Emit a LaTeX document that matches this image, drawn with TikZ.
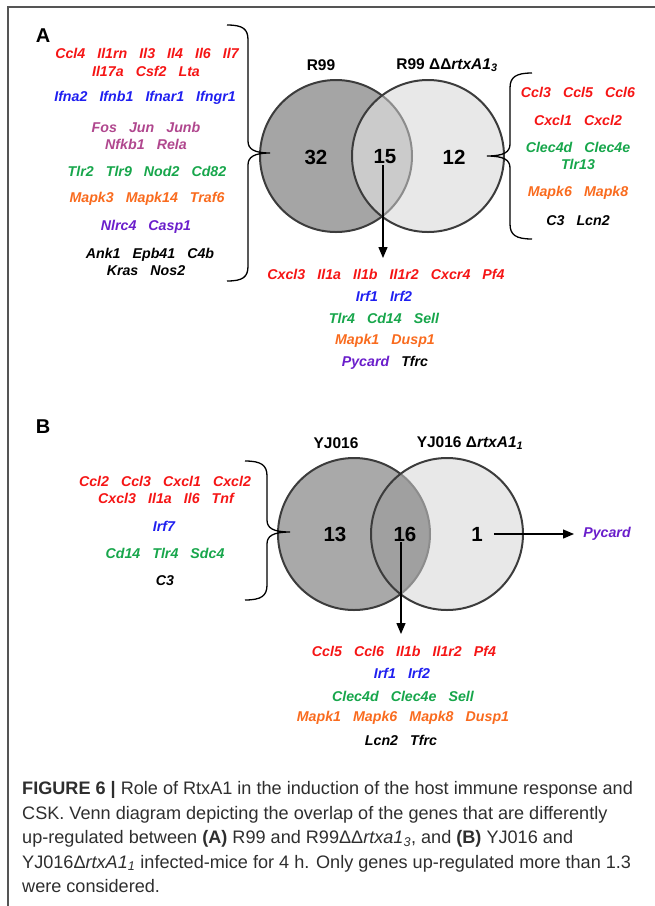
\documentclass[tikz,border=0pt]{standalone}
\usepackage{fontspec}
\setmainfont{Liberation Sans}
\usetikzlibrary{arrows.meta}
\definecolor{gred}{HTML}{F51515}
\definecolor{gblue}{HTML}{1F1FF0}
\definecolor{gmauve}{HTML}{B0478E}
\definecolor{ggreen}{HTML}{17A64B}
\definecolor{gorange}{HTML}{F96B1E}
\definecolor{gviolet}{HTML}{6A1ECB}
\definecolor{frameg}{HTML}{555555}
\definecolor{dk}{HTML}{3C3C3C}
\definecolor{capc}{HTML}{2E2E2E}
\definecolor{aL}{HTML}{A5A5A5}
\definecolor{aR}{HTML}{E8E8E8}
\definecolor{aI}{HTML}{CBCBCB}
\definecolor{bL}{HTML}{A9A9A9}
\definecolor{bR}{HTML}{E8E8E8}
\definecolor{bI}{HTML}{A0A0A0}
\definecolor{arcg}{HTML}{8C8C8C}
\newcommand\genegap{\hspace{0.85em}}
\tikzset{
  gene/.style={font=\fontsize{14.2}{16}\selectfont\bfseries\itshape, inner sep=0pt, anchor=center},
  num/.style={font=\fontsize{20.5}{22}\selectfont\bfseries, inner sep=1pt},
  setlab/.style={font=\fontsize{15.5}{17}\selectfont\bfseries, inner sep=0pt},
  panel/.style={font=\fontsize{20}{22}\selectfont\bfseries, inner sep=0pt},
  captext/.style={font=\fontsize{18.1}{20}\selectfont, text=capc, inner sep=0pt, anchor=base west},
  vcirc/.style={circle, minimum size=152pt, inner sep=0pt, outer sep=0pt},
  vline/.style={draw=dk, line width=2pt},
  brace/.style={draw=black, line width=1.3pt},
  arr/.style={draw=black, line width=1.3pt, -{Triangle[width=9pt,length=11pt]}},
}
\begin{document}
\begin{tikzpicture}[x=1pt,y=-1pt]
\useasboundingbox (0,0) rectangle (655,906);
% frame
\draw[frameg, line width=2pt] (655,7) -- (8,7) -- (8,906);

% ================= Panel A =================
\node[panel] (pA) at (43,36) {A};
\node[vcirc] (AL) at (336,156) {};
\node[vcirc] (AR) at (428,156) {};
\fill[aL] (AL.center) circle (76pt);
\draw[vline] (AL.center) circle (76pt);
\fill[aR] (AR.center) circle (76pt);
\begin{scope}
  \clip (AL.center) circle (76pt);
  \fill[aI] (AR.center) circle (76pt);
\end{scope}
\begin{scope}
  \clip (AR.center) circle (76pt);
  \draw[arcg, line width=2pt] (AL.center) circle (76pt);
\end{scope}
\draw[vline] (AR.center) circle (76pt);

\node[setlab] (lAL) at (321,65) {R99};
\node[setlab] (lAR) at (447,65) {R99 ΔΔ\textit{rtxA1}\textsubscript{\textit{3}}};
\node[num] (n32) at (316,157) {32};
\node[num] (n15) at (385,157) {15};
\node[num] (n12) at (454,157) {12};

% left list A
\node[gene, text=gred] (a1) at (147,53) {Ccl4\genegap Il1rn\genegap Il3\genegap Il4\genegap Il6\genegap Il7};
\node[gene, text=gred] (a2) at (146,71) {Il17a\genegap Csf2\genegap Lta};
\node[gene, text=gblue] (a3) at (145,98) {Ifna2\genegap Ifnb1\genegap Ifnar1\genegap Ifngr1};
\node[gene, text=gmauve] (a4) at (146,127) {Fos\genegap Jun\genegap Junb};
\node[gene, text=gmauve] (a5) at (146,144) {Nfkb1\genegap Rela};
\node[gene, text=ggreen] (a6) at (147,171) {Tlr2\genegap Tlr9\genegap Nod2\genegap Cd82};
\node[gene, text=gorange] (a7) at (147,199) {Mapk3\genegap Mapk14\genegap Traf6};
\node[gene, text=gviolet] (a8) at (146,227) {Nlrc4\genegap Casp1};
\node[gene, text=black] (a9) at (150,255) {Ank1\genegap Epb41\genegap C4b};
\node[gene, text=black] (a10) at (146,271) {Kras\genegap Nos2};
\draw[brace] (227,25) .. controls (243,25) and (248,29) .. (248,40) -- (248,141)
  .. controls (248,149) and (254,153) .. (270,153)
  .. controls (254,153) and (248,157) .. (248,165) -- (248,266)
  .. controls (248,277) and (243,281) .. (227,281);

% right list A
\node[gene, text=gred] (r1) at (578,92) {Ccl3\genegap Ccl5\genegap Ccl6};
\node[gene, text=gred] (r2) at (578,120) {Cxcl1\genegap Cxcl2};
\node[gene, text=ggreen] (r3) at (578,147) {Clec4d\genegap Clec4e};
\node[gene, text=ggreen] (r4) at (578,164) {Tlr13};
\node[gene, text=gorange] (r5) at (578,193) {Mapk6\genegap Mapk8};
\node[gene, text=black] (r6) at (578,221) {C3\genegap Lcn2};
\draw[brace] (532,73) .. controls (516,73) and (510,77) .. (510,88) -- (510,144)
  .. controls (510,152) and (504,156) .. (487,156)
  .. controls (504,156) and (510,160) .. (510,168) -- (510,224)
  .. controls (510,235) and (516,239) .. (532,239);

% shared list A
\node[gene, text=gred] (s1) at (386,274) {Cxcl3\genegap Il1a\genegap Il1b\genegap Il1r2\genegap Cxcr4\genegap Pf4};
\node[gene, text=gblue] (s2) at (384,296) {Irf1\genegap Irf2};
\node[gene, text=ggreen] (s3) at (384,318) {Tlr4\genegap Cd14\genegap Sell};
\node[gene, text=gorange] (s4) at (385,341) {Mapk1\genegap Dusp1};
\node[gene, text=black] (s5) at (385,363) {\textcolor{gviolet}{Pycard}\genegap Tfrc};
\coordinate (tA) at (383,258);
\draw[arr] (n15.south -| tA) -- (tA);

% ================= Panel B =================
\node[panel] (pB) at (43,427) {B};
\node[vcirc] (BL) at (354,534) {};
\node[vcirc] (BR) at (447,534) {};
\fill[bL] (BL.center) circle (76pt);
\draw[vline] (BL.center) circle (76pt);
\fill[bR] (BR.center) circle (76pt);
\begin{scope}
  \clip (BL.center) circle (76pt);
  \fill[bI] (BR.center) circle (76pt);
\end{scope}
\begin{scope}
  \clip (BR.center) circle (76pt);
  \draw[arcg, line width=2pt] (BL.center) circle (76pt);
\end{scope}
\draw[vline] (BR.center) circle (76pt);

\node[setlab] (lBL) at (336,443) {YJ016};
\node[setlab] (lBR) at (470,443) {YJ016 Δ\textit{rtxA1}\textsubscript{\textit{1}}};
\node[num] (n13) at (335,534) {13};
\node[num] (n16) at (405,534) {16};
\node[num] (n1) at (477,534) {1};

% left list B
\node[gene, text=gred] (b1) at (165,481) {Ccl2\genegap Ccl3\genegap Cxcl1\genegap Cxcl2};
\node[gene, text=gred] (b2) at (166,498) {Cxcl3\genegap Il1a\genegap Il6\genegap Tnf};
\node[gene, text=gblue] (b3) at (164,526) {Irf7};
\node[gene, text=ggreen] (b4) at (165,553) {Cd14\genegap Tlr4\genegap Sdc4};
\node[gene, text=black] (b5) at (165,581) {C3};
\draw[brace] (245,461) .. controls (261,461) and (267,465) .. (267,476) -- (267,520)
  .. controls (267,528) and (273,532) .. (290,532)
  .. controls (273,532) and (267,536) .. (267,544) -- (267,585)
  .. controls (267,596) and (261,600) .. (245,600);

% Pycard
\node[gene, text=gviolet] (pyc) at (607,534) {Pycard};
\coordinate (tP) at (574,534);
\draw[arr] ([xshift=10pt]n1.east) -- (tP);

% shared list B
\node[gene, text=gred] (t1) at (404,651) {Ccl5\genegap Ccl6\genegap Il1b\genegap Il1r2\genegap Pf4};
\node[gene, text=gblue] (t2) at (402,673) {Irf1\genegap Irf2};
\node[gene, text=ggreen] (t3) at (403,696) {Clec4d\genegap Clec4e\genegap Sell};
\node[gene, text=gorange] (t4) at (403,718) {Mapk1\genegap Mapk6\genegap Mapk8\genegap Dusp1};
\node[gene, text=black] (t5) at (401,740) {Lcn2\genegap Tfrc};
\coordinate (tB) at (401,634);
\draw[arr] (n16.south -| tB) -- (tB);

% ================= Caption =================
\node[captext] (c1) at (22,794.5) {\textbf{FIGURE 6 |} Role of RtxA1 in the induction of the host immune response and};
\node[captext] (c2) at (22,819) {CSK. Venn diagram depicting the overlap of the genes that are differently};
\node[captext] (c3) at (22,843.5) {up-regulated between \textbf{(A)} R99 and R99ΔΔ\textit{rtxa1}\textsubscript{\textit{3}}, and \textbf{(B)} YJ016 and};
\node[captext] (c4) at (22,868) {YJ016Δ\textit{rtxA1}\textsubscript{\textit{1}} infected-mice for 4 h. Only genes up-regulated more than 1.3};
\node[captext] (c5) at (22,892.5) {were considered.};
\end{tikzpicture}
\end{document}
